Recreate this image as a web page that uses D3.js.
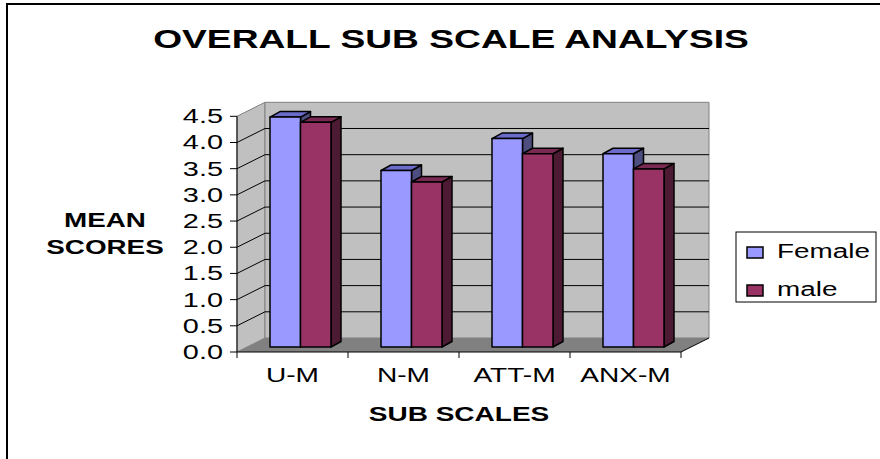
<!DOCTYPE html>
<html>
<head>
<meta charset="utf-8">
<script src="https://cdn.jsdelivr.net/npm/d3@7"></script>
<style>
  body { margin: 0; background: #fff; }
  text { font-family: "Liberation Sans", Arial, sans-serif; fill: #000; }
</style>
</head>
<body>
<div id="chart"></div>
<script>
var categories = ["U-M", "N-M", "ATT-M", "ANX-M"];
var series = ["Female", "male"];
var female = [4.39, 3.37, 3.98, 3.69];
var male = [4.29, 3.15, 3.69, 3.40];
var yTicks = [0, 0.5, 1, 1.5, 2, 2.5, 3, 3.5, 4, 4.5];

var width = 880, height = 459;

// front plane of the plot, depth of the walls and of the bars
var x0 = 237, x1 = 681, yTop = 116.3, yBase = 352;
var wallDx = 28, wallDy = -14;
var barOffX = 10, barOffY = -5, barDx = 10, barDy = -5.5;

var faces = {
  Female: { front: "#9999ff", top: "#6b6bcc", side: "#4d4d80" },
  male:   { front: "#993366", top: "#7a2952", side: "#4d1a33" }
};

var svg = d3.select("#chart").append("svg")
    .attr("width", width)
    .attr("height", height);

// outer chart border (runs off the right and bottom edges)
svg.append("rect")
    .attr("x", 7).attr("y", 4)
    .attr("width", 900).attr("height", 480)
    .attr("fill", "none")
    .attr("stroke", "#000")
    .attr("stroke-width", 2);

var y = d3.scaleLinear().domain([0, 4.5]).range([yBase, yTop]);

var x = d3.scaleBand().domain(categories).range([x0, x1]);
var xs = d3.scaleBand().domain(series).range([0, 61]);

function poly(pts) { return "M" + pts.map(function(p) { return p.join(","); }).join("L") + "Z"; }

// stretched text helper (the reference is horizontally stretched)
function stretch(sel, k) {
  sel.each(function() {
    var len = this.getComputedTextLength();
    d3.select(this).attr("textLength", len * k).attr("lengthAdjust", "spacingAndGlyphs");
  });
}

// side wall
svg.append("path")
    .attr("d", poly([[x0, y(4.5)], [x0 + wallDx, y(4.5) + wallDy], [x0 + wallDx, yBase + wallDy], [x0, yBase]]))
    .attr("fill", "#c0c0c0")
    .attr("stroke", "#808080");

// back wall
svg.append("path")
    .attr("d", poly([[x0 + wallDx, y(4.5) + wallDy], [x1 + wallDx, y(4.5) + wallDy], [x1 + wallDx, yBase + wallDy], [x0 + wallDx, yBase + wallDy]]))
    .attr("fill", "#c0c0c0")
    .attr("stroke", "#808080");

// floor
svg.append("path")
    .attr("d", poly([[x0, yBase], [x1, yBase], [x1 + wallDx, yBase + wallDy], [x0 + wallDx, yBase + wallDy]]))
    .attr("fill", "#808080")
    .attr("stroke", "none");
svg.append("line")
    .attr("x1", x1).attr("y1", yBase)
    .attr("x2", x1 + wallDx).attr("y2", yBase + wallDy)
    .attr("stroke", "#000");

// gridlines on side and back walls
var grid = yTicks.filter(function(d) { return d > 0 && d < 4.5; });
svg.append("g").selectAll("path")
  .data(grid)
  .enter().append("path")
    .attr("d", function(d) {
      return "M" + x0 + "," + y(d) + "L" + (x0 + wallDx) + "," + (y(d) + wallDy) + "L" + (x1 + wallDx) + "," + (y(d) + wallDy);
    })
    .attr("fill", "none")
    .attr("stroke", "#000")
    .attr("stroke-width", 1);

// bars
var rows = categories.map(function(c, i) { return { cat: c, values: [female[i], male[i]] }; });

var barW = xs.bandwidth();
var groupPad = (x.bandwidth() - 61) / 2 - 2;

var bars = svg.append("g");
rows.forEach(function(r) {
  series.forEach(function(s, j) {
    var v = r.values[j];
    var left = x(r.cat) + groupPad + xs(s) + barOffX;
    var right = left + barW;
    var top = y(v) + barOffY;
    var bottom = yBase + barOffY;
    var f = faces[s];
    var g = bars.append("g").attr("class", "bar");
    g.append("path")
        .attr("d", poly([[right, top], [right + barDx, top + barDy], [right + barDx, bottom + barDy], [right, bottom]]))
        .attr("fill", f.side);
    g.append("path")
        .attr("d", poly([[left, top], [left + barDx, top + barDy], [right + barDx, top + barDy], [right, top]]))
        .attr("fill", f.top);
    g.append("rect")
        .attr("x", left).attr("y", top)
        .attr("width", barW).attr("height", bottom - top)
        .attr("fill", f.front);
    g.selectAll("path, rect")
        .attr("stroke", "#000")
        .attr("stroke-width", 1.5)
        .attr("stroke-linejoin", "round");
  });
});

// y axis
var yAxis = svg.append("g");
yAxis.append("line")
    .attr("x1", x0).attr("y1", y(4.5))
    .attr("x2", x0).attr("y2", yBase)
    .attr("stroke", "#000");
yAxis.selectAll(".tick")
  .data(yTicks)
  .enter().append("line")
    .attr("x1", x0 - 7).attr("x2", x0)
    .attr("y1", function(d) { return y(d); })
    .attr("y2", function(d) { return y(d); })
    .attr("stroke", "#000");
yAxis.selectAll("text")
  .data(yTicks)
  .enter().append("text")
    .attr("x", 223)
    .attr("y", function(d) { return y(d) + 7; })
    .attr("text-anchor", "end")
    .style("font-size", "19.5px")
    .text(function(d) { return d.toFixed(1); })
    .call(stretch, 1.48);

// x axis
var xAxis = svg.append("g");
xAxis.append("line")
    .attr("x1", x0).attr("y1", yBase)
    .attr("x2", x1).attr("y2", yBase)
    .attr("stroke", "#000");
var edges = categories.map(function(c) { return x(c); }).concat([x1]);
xAxis.selectAll(".tick")
  .data(edges)
  .enter().append("line")
    .attr("x1", function(d) { return d; })
    .attr("x2", function(d) { return d; })
    .attr("y1", yBase).attr("y2", yBase + 6)
    .attr("stroke", "#000");
xAxis.selectAll("text")
  .data(categories)
  .enter().append("text")
    .attr("x", function(d) { return x(d) + x.bandwidth() / 2; })
    .attr("y", 382)
    .attr("text-anchor", "middle")
    .style("font-size", "20.5px")
    .text(function(d) { return d; })
    .call(stretch, 1.37);

// titles
svg.append("text")
    .attr("x", 451).attr("y", 48)
    .attr("text-anchor", "middle")
    .style("font-size", "26px").style("font-weight", "bold")
    .text("OVERALL SUB SCALE ANALYSIS")
    .call(stretch, 1.43);

svg.append("text")
    .attr("x", 459).attr("y", 421)
    .attr("text-anchor", "middle")
    .style("font-size", "20px").style("font-weight", "bold")
    .text("SUB SCALES")
    .call(stretch, 1.4);

var yTitle = svg.append("text")
    .attr("text-anchor", "middle")
    .style("font-size", "20px").style("font-weight", "bold");
yTitle.append("tspan").attr("x", 105).attr("y", 227).text("MEAN");
yTitle.append("tspan").attr("x", 105).attr("y", 254).text("SCORES");
yTitle.selectAll("tspan").call(stretch, 1.39);

// legend
var legend = svg.append("g");
legend.append("rect")
    .attr("x", 736).attr("y", 232)
    .attr("width", 140).attr("height", 70)
    .attr("fill", "#fff")
    .attr("stroke", "#000");
var li = legend.selectAll(".item")
  .data(series)
  .enter().append("g")
    .attr("transform", function(d, i) { return "translate(0," + (i * 38) + ")"; });
li.append("rect")
    .attr("x", 747).attr("y", 247)
    .attr("width", 16).attr("height", 11)
    .attr("fill", function(d) { return faces[d].front; })
    .attr("stroke", "#000")
    .attr("stroke-width", 1.5);
li.append("text")
    .attr("x", 777).attr("y", 258)
    .style("font-size", "19.5px")
    .text(function(d) { return d; })
    .call(stretch, 1.43);
</script>
</body>
</html>
